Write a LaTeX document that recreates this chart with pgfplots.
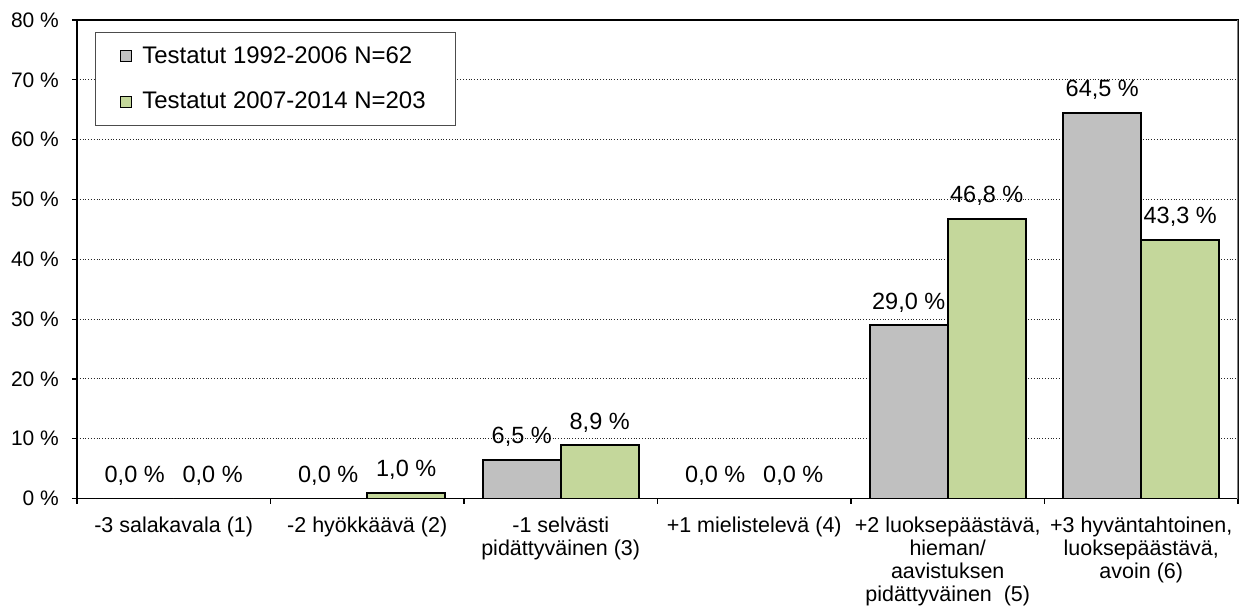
\documentclass[border=0pt]{standalone}
\usepackage{fontspec}
\setmainfont{Liberation Sans}
\usepackage{pgfplots}
\pgfplotsset{compat=1.18}
\definecolor{bargray}{HTML}{C0C0C0}
\definecolor{bargreen}{HTML}{C4D79B}
\begin{document}
\begin{tikzpicture}
\begin{axis}[
  at={(0,0)}, anchor=south west,
  scale only axis,
  width=581pt, height=239.5pt,
  /pgf/number format/assume math mode=true,
  xmin=-0.5, xmax=5.5,
  ymin=0, ymax=80,
  ytick={0,10,...,80},
  yticklabel={\pgfmathprintnumber{\tick}~\%},
  xtick={0,1,2,3,4,5},
  xticklabels={{-3 salakavala (1)},{-2 hyökkäävä (2)},{-1 selvästi\\pidättyväinen (3)},{+1 mielistelevä (4)},{+2 luoksepäästävä,\\hieman/\\aavistuksen\\pidättyväinen\ \ (5)},{+3 hyväntahtoinen,\\luoksepäästävä,\\avoin (6)}},
  minor xtick={-0.5,0.5,...,5.5},
  major x tick style={draw=none},
  tick align=outside,
  major tick length=2.5pt,
  minor tick length=2.5pt,
  xtick pos=bottom, ytick pos=left,
  tick style={black, line width=0.6pt},
  axis line style={black, line width=0.75pt},
  ymajorgrids=true,
  major grid style={densely dotted, black!85, line width=0.5pt},
  xticklabel style={font=\fontsize{10.75}{11.5}\selectfont, align=center, anchor=north, yshift=-3pt},
  yticklabel style={font=\fontsize{10.5}{12}\selectfont, xshift=-3pt},
  ybar=0pt,
  bar width=0.403,
  nodes near coords={\pgfmathprintnumber[fixed,fixed zerofill,precision=1,use comma]{\pgfplotspointmeta}~\%},
  every node near coord/.append style={font=\fontsize{11.75}{13}\selectfont, anchor=base, yshift=8pt, black},
  legend style={at={(axis description cs:0,1)}, anchor=north west, xshift=9pt, yshift=-6pt,
    draw=black!70, line width=0.5pt, font=\fontsize{12}{14}\selectfont,
    inner xsep=8pt, inner ysep=5pt, row sep=9pt, cells={anchor=west}},
  legend image code/.code={\path (0pt,0pt) (12.5pt,0pt); \draw[#1, line width=0.6pt] (4pt,-2.75pt) rectangle (9.5pt,2.75pt);},
]
\addplot[fill=bargray, draw=black, line width=1pt, bar shift=-0.2015] coordinates {(0,0) (1,0) (2,6.5) (3,0) (4,29.0) (5,64.5)};
\addplot[fill=bargreen, draw=black, line width=1pt, bar shift=0.2015] coordinates {(0,0) (1,1.0) (2,8.9) (3,0) (4,46.8) (5,43.3)};
\legend{Testatut 1992-2006 N=62\hspace*{5pt}, Testatut 2007-2014 N=203\hspace*{5pt}}
\draw[black!50, line width=0.75pt] (rel axis cs:1,0) -- (rel axis cs:1,1);
\end{axis}
\pgfresetboundingbox
\path (-38.5pt,-54.5pt) rectangle (582pt,249.5pt);
\end{tikzpicture}
\end{document}
